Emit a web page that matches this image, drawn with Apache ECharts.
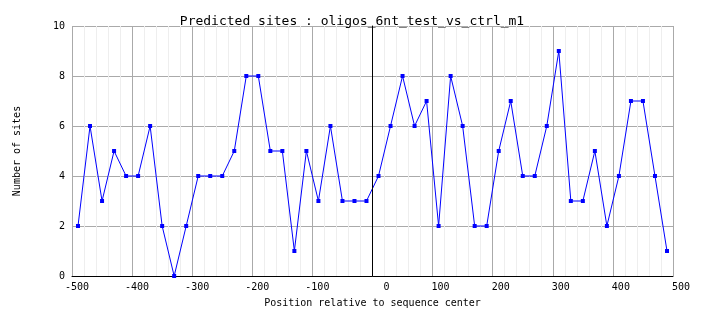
<!DOCTYPE html>
<html>
<head>
<meta charset="utf-8">
<script src="https://cdn.jsdelivr.net/npm/echarts@6/dist/echarts.min.js"></script>
<style>
  html, body { margin: 0; padding: 0; background: #fff; }
  #chart { width: 704px; height: 328px; }
</style>
</head>
<body>
<div id="chart"></div>
<script>
// Window positions (bin centres, relative to sequence centre)
const positions = [
  -490, -470, -450, -430, -410, -390, -370, -350, -330, -310,
  -290, -270, -250, -230, -210, -190, -170, -150, -130, -110,
   -90,  -70,  -50,  -30,  -10,   10,   30,   50,   70,   90,
   110,  130,  150,  170,  190,  210,  230,  250,  270,  290,
   310,  330,  350,  370,  390,  410,  430,  450,  470,  490
];
// Number of predicted sites per window
const siteCounts = [
  2, 6, 3, 5, 4, 4, 6, 2, 0, 2,
  4, 4, 4, 5, 8, 8, 5, 5, 1, 5,
  3, 6, 3, 3, 3, 4, 6, 8, 6, 7,
  2, 8, 6, 2, 2, 5, 7, 4, 4, 6,
  9, 3, 3, 5, 2, 4, 7, 7, 4, 1
];
const centerPosition = 0;

const titleText = 'Predicted sites : oligos_6nt_test_vs_ctrl_m1';
const xTitle = 'Position relative to sequence center';
const yTitle = 'Number of sites';

const mono = 'DejaVu Sans Mono';
const chart = echarts.init(document.getElementById('chart'), null, { renderer: 'canvas' });

chart.setOption({
  animation: false,
  backgroundColor: '#ffffff',
  title: {
    text: titleText,
    left: 'center',
    top: 10,
    textStyle: { fontFamily: mono, fontSize: 13, fontWeight: 'normal', color: '#000' }
  },
  grid: { left: 72, right: 31, top: 26, height: 250 },
  xAxis: {
    type: 'value',
    min: -500, max: 500, interval: 100,
    name: xTitle,
    nameLocation: 'middle',
    nameGap: 22,
    nameTextStyle: { fontFamily: mono, fontSize: 10, color: '#000' },
    axisLine: { show: true, onZero: false, lineStyle: { color: '#000', width: 1 } },
    axisTick: { show: false },
    axisLabel: {
      fontFamily: mono, fontSize: 10, color: '#000',
      margin: 6, align: 'right', padding: [0, -17, 0, 0]
    },
    splitLine: { show: true, lineStyle: { color: '#aaaaaa', width: 1 } },
    minorTick: { show: false, splitNumber: 5 },
    minorSplitLine: { show: true, lineStyle: { color: '#eeeeee', width: 1 } }
  },
  yAxis: {
    type: 'value',
    min: 0, max: 10, interval: 2,
    name: yTitle,
    nameLocation: 'middle',
    nameRotate: 90,
    nameGap: 50,
    nameTextStyle: { fontFamily: mono, fontSize: 10, color: '#000' },
    axisLine: { show: true, lineStyle: { color: '#000', width: 1 } },
    axisTick: { show: false },
    axisLabel: { fontFamily: mono, fontSize: 10, color: '#000', margin: 7, padding: [4, 0, 0, 0] },
    splitLine: { show: true, lineStyle: { color: '#aaaaaa', width: 1 } }
  },
  series: [{
    type: 'line',
    data: positions.map((p, i) => [p, siteCounts[i]]),
    symbol: 'rect',
    symbolSize: 4,
    showAllSymbol: true,
    itemStyle: { color: '#0000ff' },
    lineStyle: { color: '#0000ff', width: 1 },
    markLine: {
      silent: true,
      symbol: 'none',
      label: { show: false },
      lineStyle: { color: '#000', width: 1, type: 'solid' },
      data: [{ xAxis: centerPosition }]
    }
  }]
});
</script>
</body>
</html>
